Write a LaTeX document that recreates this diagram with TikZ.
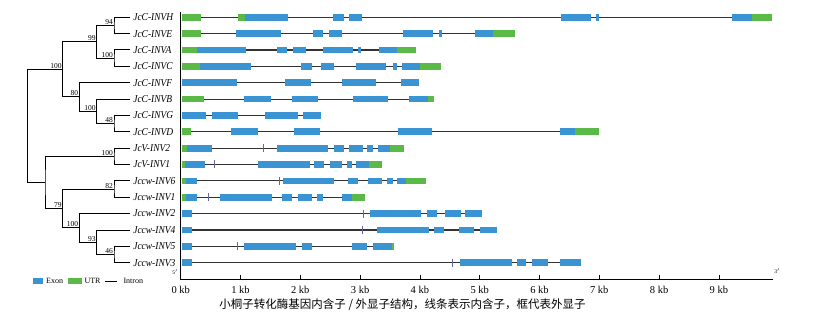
\documentclass[tikz,border=0pt]{standalone}
\usepackage{fontspec}
\setmainfont{Liberation Serif}
\newfontfamily\cjk{Noto Sans CJK SC}
\definecolor{exonc}{HTML}{3A93D3}
\definecolor{utrc}{HTML}{5BBA47}
\definecolor{intc}{HTML}{333333}
\newcommand\GeneEx[2]{\foreach \a/\b in {#2} {\fill[exonc] (\a,#1-3.4) rectangle (\b,#1+3.4);}}
\newcommand\GeneUt[2]{\foreach \a/\b in {#2} {\fill[utrc] (\a,#1-3.4) rectangle (\b,#1+3.4);}}
\newcommand\GeneTk[2]{\foreach \a in {#2} {\draw[gtick] (\a,#1-4) -- (\a,#1+4);}}
\newcommand\GeneIn[3]{\draw[intron] (#2,#1) -- (#3,#1);}
\tikzset{
  leaf/.style={anchor=west,inner xsep=3.5pt,inner ysep=0pt,xscale=0.9,font=\fontsize{10.5}{10.5}\selectfont\itshape},
  boot/.style={anchor=south east,inner sep=0pt,font=\fontsize{7.5}{7.5}\selectfont},
  branch/.style={line width=1pt,black},
  intron/.style={line width=1.1pt,intc},
  gtick/.style={line width=0.5pt,gray!80!blue},
  axisline/.style={line width=0.8pt,black},
  ticklab/.style={font=\fontsize{10.5}{10.5}\selectfont},
  legtext/.style={anchor=west,inner sep=0pt,font=\fontsize{8}{8}\selectfont}
}
\begin{document}
\begin{tikzpicture}[x=1pt,y=-1pt]
\useasboundingbox (0,0) rectangle (826,315);
% leaves
\node[leaf] (l1) at (130,17.3) {JcC-INVH};
\node[leaf] (l2) at (130,33.7) {JcC-INVE};
\node[leaf] (l3) at (130,50.0) {JcC-INVA};
\node[leaf] (l4) at (130,66.4) {JcC-INVC};
\node[leaf] (l5) at (130,82.7) {JcC-INVF};
\node[leaf] (l6) at (130,99.1) {JcC-INVB};
\node[leaf] (l7) at (130,115.5) {JcC-INVG};
\node[leaf] (l8) at (130,131.8) {JcC-INVD};
\node[leaf] (l9) at (130,148.2) {JcV-INV2};
\node[leaf] (l10) at (130,164.5) {JcV-INV1};
\node[leaf] (l11) at (130,180.9) {Jccw-INV6};
\node[leaf] (l12) at (130,197.3) {Jccw-INV1};
\node[leaf] (l13) at (130,213.6) {Jccw-INV2};
\node[leaf] (l14) at (130,230.0) {Jccw-INV4};
\node[leaf] (l15) at (130,246.3) {Jccw-INV5};
\node[leaf] (l16) at (130,262.7) {Jccw-INV3};
% internal nodes
\coordinate (n94) at (114,25.5);
\coordinate (nAC) at (114,58.2);
\coordinate (n99) at (96.7,41.9);
\coordinate (nGD) at (114,123.6);
\coordinate (nB) at (96.7,111.4);
\coordinate (n80) at (79.3,97.0);
\coordinate (ntop) at (62.7,69.5);
\coordinate (nV) at (114,156.4);
\coordinate (n82) at (114,189.1);
\coordinate (n46) at (114,254.5);
\coordinate (n93) at (96.7,242.2);
\coordinate (nW) at (79.3,227.9);
\coordinate (n79) at (62.7,208.5);
\coordinate (nS) at (45,182.5);
\coordinate (root) at (27.3,126);
\draw[branch] (l1.west) -| (n94) |- (l2.west);
\draw[branch] (l3.west) -| (nAC) |- (l4.west);
\draw[branch] (n94) -| (n99) |- (nAC);
\draw[branch] (l7.west) -| (nGD) |- (l8.west);
\draw[branch] (l6.west) -| (nB) |- (nGD);
\draw[branch] (l5.west) -| (n80) |- (nB);
\draw[branch] (n99) -| (ntop) |- (n80);
\draw[branch] (l9.west) -| (nV) |- (l10.west);
\draw[branch] (l11.west) -| (n82) |- (l12.west);
\draw[branch] (l15.west) -| (n46) |- (l16.west);
\draw[branch] (l14.west) -| (n93) |- (n46);
\draw[branch] (l13.west) -| (nW) |- (n93);
\draw[branch] (n82) -| (n79) |- (nW);
\draw[branch] (nV) -| (nS) |- (n79);
\draw[branch] (ntop) -| (root) |- (nS);
% bootstrap values
\node[boot] (b1) at ([xshift=-1,yshift=0.8]n94) {94};
\node[boot] (b2) at ([xshift=-1,yshift=0.8]nAC) {100};
\node[boot] (b3) at ([xshift=-1,yshift=0.8]n99) {99};
\node[boot] (b4) at ([xshift=-1,yshift=0.8]nGD) {48};
\node[boot] (b5) at ([xshift=-1,yshift=0.8]nB) {100};
\node[boot] (b6) at ([xshift=-1,yshift=0.8]n80) {80};
\node[boot] (b7) at ([xshift=-1,yshift=0.8]ntop) {100};
\node[boot] (b8) at ([xshift=-1,yshift=0.8]nV) {100};
\node[boot] (b9) at ([xshift=-1,yshift=0.8]n82) {82};
\node[boot] (b10) at ([xshift=-1,yshift=0.8]n46) {46};
\node[boot] (b11) at ([xshift=-1,yshift=0.8]n93) {93};
\node[boot] (b12) at ([xshift=-1,yshift=0.8]nW) {100};
\node[boot] (b13) at ([xshift=-1,yshift=0.8]n79) {79};
% axis
\coordinate (ax0) at (180.7,279);
\coordinate (axtop) at (180.7,12);
\coordinate (axend) at (772.7,279);
\draw[axisline] (axtop) -- (ax0) -- (axend);
\foreach \k in {0,...,9} {
  \coordinate (tk\k) at (180.7+59.8*\k,279);
  \draw[axisline] (tk\k) -- ++(0,-4);
  \node[ticklab] (tl\k) at (180.7+59.8*\k,290) {\k\ kb};
}
\node[font=\fontsize{5.5}{5.5}\selectfont,inner sep=0pt] (p5) at (175,272.5) {5$'$};
\node[font=\fontsize{5.5}{5.5}\selectfont,inner sep=0pt] (p3) at (777,271) {3$'$};
% gene structures
% H
\GeneIn{17.3}{181.7}{772.3}
\GeneUt{17.3}{181.7/201,238.3/245,751.7/772.3}
\GeneEx{17.3}{245/288.3,333.3/344,349/362.3,561/590.7,595.7/599.3,731.7/751.7}
% E
\GeneIn{33.7}{181.7}{514.7}
\GeneUt{33.7}{181.7/200.7,492.7/514.7}
\GeneEx{33.7}{236/280.7,312.7/323,329/342,402.7/433,438.7/442.3,475/492.7}
% A
\GeneIn{50.0}{181.7}{416}
\GeneUt{50.0}{181.7/196.7,396.7/416}
\GeneEx{50.0}{196.7/246,276.7/287.3,293.3/306.3,323/352.7,358.3/360.7,379/396.7}
% C
\GeneIn{66.4}{181.7}{440.7}
\GeneUt{66.4}{181.7/200,420/440.7}
\GeneEx{66.4}{200/250.7,301.3/311.7,321/334,355.7/385.7,393/396.7,402.3/420}
% F
\GeneIn{82.7}{181.7}{419}
\GeneEx{82.7}{181.7/236.7,284.7/311,342/376,401.3/419}
% B
\GeneIn{99.1}{181.7}{434}
\GeneUt{99.1}{181.7/204.3,428.3/434}
\GeneEx{99.1}{244/270.7,291.7/317.7,353.3/387.7,408.7/428.3}
% G
\GeneIn{115.5}{181.7}{321}
\GeneEx{115.5}{181.7/206,212/238.3,265/298.3,303/321}
% D
\GeneIn{131.8}{181.7}{599}
\GeneUt{131.8}{181.7/191.3,574.7/599}
\GeneEx{131.8}{231/257.7,293.7/319.7,398.3/432.3,559.7/574.7}
% JcV-INV2
\GeneIn{148.2}{181.7}{403.7}
\GeneTk{148.2}{263.3}
\GeneUt{148.2}{181.7/186.7,390/403.7}
\GeneEx{148.2}{186.7/211.7,277/328,333.7/343.7,348.7/362.7,367.3/372.7,378.3/390}
% JcV-INV1
\GeneIn{164.5}{181.7}{382.3}
\GeneTk{164.5}{214.3}
\GeneUt{164.5}{181.7/185.3,368.7/382.3}
\GeneEx{164.5}{185.3/205,258.3/309.7,314.3/324.3,329.7/342.3,346.7/352,356.3/368.7}
% Jccw-INV6
\GeneIn{180.9}{181.7}{426.3}
\GeneTk{180.9}{279}
\GeneUt{180.9}{181.7/185.7,406.3/426.3}
\GeneEx{180.9}{185.7/196.7,283.3/334.3,348/358.3,368/382.3,387.3/393.3,397.3/406.3}
% Jccw-INV1
\GeneIn{197.3}{181.7}{364.7}
\GeneTk{197.3}{208.3}
\GeneUt{197.3}{181.7/185.7,352.3/364.7}
\GeneEx{197.3}{185.7/196.7,219.7/271.7,281.7/292,297.7/312,317.3/323,342/352.3}
% Jccw-INV2
\GeneIn{213.6}{181.7}{482.3}
\GeneTk{213.6}{363.7}
\GeneEx{213.6}{181.7/192,370/421.3,427/436.7,445.3/460.7,465.3/482.3}
% Jccw-INV4
\GeneIn{230.0}{181.7}{496.7}
\GeneTk{230.0}{362.3}
\GeneEx{230.0}{181.7/192,376.7/428.7,434.3/444,459/473.7,480/496.7}
% Jccw-INV5
\GeneIn{246.3}{181.7}{394.3}
\GeneTk{246.3}{237.3}
\GeneUt{246.3}{392/394.3}
\GeneEx{246.3}{181.7/192.3,244/296,301.7/311.7,351.7/366.7,372.7/392}
% Jccw-INV3
\GeneIn{262.7}{181.7}{580.7}
\GeneTk{262.7}{452.7}
\GeneEx{262.7}{181.7/192,460/511.7,516.7/526,532/547.7,560.3/580.7}
% legend
\fill[exonc] (33.3,278.3) rectangle (43.3,284.3);
\node[legtext] (lgE) at (46,281.3) {Exon};
\fill[utrc] (67.7,278.3) rectangle (81.7,284.3);
\node[legtext] (lgU) at (84.3,281.3) {UTR};
\coordinate (lgL1) at (105,281.3);
\coordinate (lgL2) at (117,281.3);
\draw[line width=1.1pt,black] (lgL1) -- (lgL2);
\node[legtext] (lgI) at (123.3,281.3) {Intron};
% caption
\node[font=\cjk\fontsize{11.5}{11.5}\selectfont,inner sep=0pt] (cap) at (402.5,305) {小桐子转化酶基因内含子 / 外显子结构，线条表示内含子，框代表外显子};
\end{tikzpicture}
\end{document}
